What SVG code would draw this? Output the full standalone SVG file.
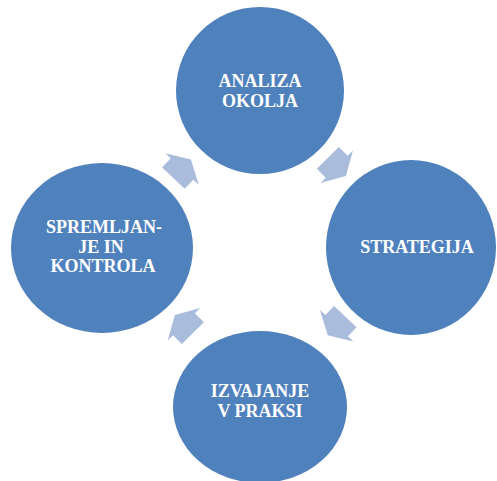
<svg xmlns="http://www.w3.org/2000/svg" width="497" height="481" viewBox="0 0 497 481">
  <defs>
    <style>
      .node { fill: #4F81BD; }
      .label { fill: #FFFFFF; font-family: "Liberation Serif", "Times New Roman", Times, "DejaVu Serif", serif; font-weight: 700; font-size: 18px; text-anchor: middle; }
      .arrow { fill: #A9BCDC; }
    </style>
    <!-- stubby block arrow pointing along +x, origin at the barb line -->
    <polygon id="cycleArrow" points="13,0 0,-23 0,-15.5 -12.5,-15.5 -12.5,15.5 0,15.5 0,23"/>
  </defs>
  <rect width="497" height="481" fill="#FFFFFF"/>

  <g id="connectors">
    <use href="#cycleArrow" class="arrow" transform="translate(182,169) rotate(-46.6)"/>
    <use href="#cycleArrow" class="arrow" transform="translate(336.7,166.7) rotate(45)"/>
    <use href="#cycleArrow" class="arrow" transform="translate(336.7,325.7) rotate(133.4)"/>
    <use href="#cycleArrow" class="arrow" transform="translate(184,324.3) rotate(-135)"/>
  </g>

  <g id="analiza-okolja">
    <ellipse class="node" cx="260" cy="90.5" rx="84" ry="83.5"/>
    <text class="label" x="260" y="87">ANALIZA</text>
    <text class="label" x="260" y="107">OKOLJA</text>
  </g>

  <g id="strategija">
    <ellipse class="node" cx="411" cy="247.5" rx="85" ry="87.5"/>
    <text class="label" x="417" y="253">STRATEGIJA</text>
  </g>

  <g id="izvajanje-v-praksi">
    <ellipse class="node" cx="260" cy="407" rx="87" ry="76"/>
    <text class="label" x="260" y="397">IZVAJANJE</text>
    <text class="label" x="260" y="417">V PRAKSI</text>
  </g>

  <g id="spremljanje-in-kontrola">
    <ellipse class="node" cx="102" cy="248" rx="91" ry="85"/>
    <text class="label" x="104" y="233">SPREMLJAN-</text>
    <text class="label" x="101" y="253">JE IN</text>
    <text class="label" x="103" y="272">KONTROLA</text>
  </g>
</svg>
